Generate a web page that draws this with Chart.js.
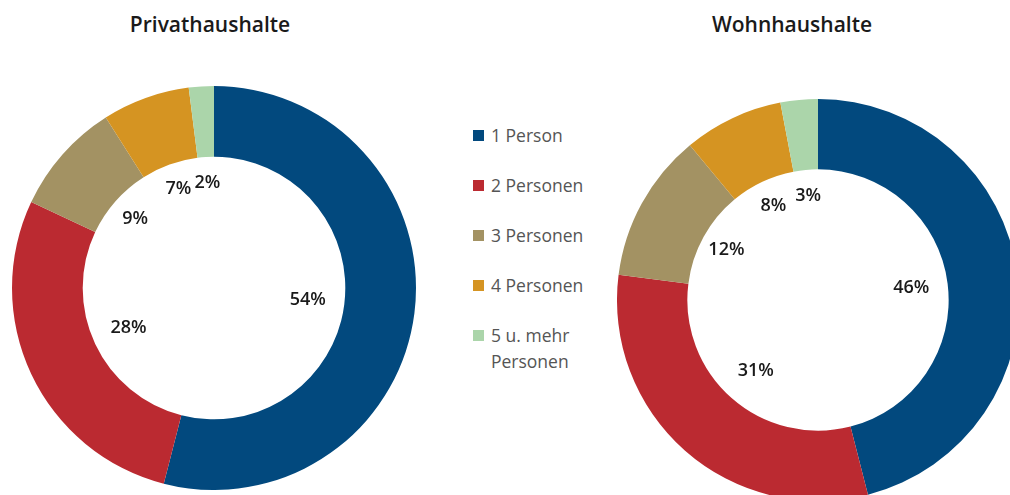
<!DOCTYPE html>
<html>
<head>
<meta charset="utf-8">
<script src="https://cdn.jsdelivr.net/npm/chart.js@4"></script>
<style>
  html, body { margin: 0; padding: 0; background: #fff; }
  body { width: 1010px; height: 495px; overflow: hidden; position: relative; font-family: "Open Sans", sans-serif; }
  canvas { position: absolute; }
  .title { position: absolute; width: 300px; text-align: center; font-size: 21px; font-weight: 600; color: #1a1a1a; }
  .legend-row { position: absolute; left: 473px; display: flex; align-items: flex-start; font-size: 17.5px; color: #555; line-height: 26px; }
  .legend-box { width: 11px; height: 11px; margin-top: 8px; margin-right: 7px; flex: none; }
</style>
</head>
<body>
<div class="title" style="left:60px; top:10px;">Privathaushalte</div>
<div class="title" style="left:642px; top:10px;">Wohnhaushalte</div>
<canvas id="privatChart" width="404" height="404" style="left:12px; top:86px;"></canvas>
<canvas id="wohnChart" width="402" height="402" style="left:617px; top:99px;"></canvas>
<div id="legend"></div>
<script>
const categories = ['1 Person', '2 Personen', '3 Personen', '4 Personen', ['5 u. mehr', 'Personen']];
const privatValues = [54, 28, 9, 7, 2];
const wohnValues = [46, 31, 12, 8, 3];
const colors = ['#02497e', '#bb2a31', '#a39263', '#d59422', '#abd5aa'];

// percent labels inside the hole, placed at the middle angle of each slice
const innerLabels = {
  id: 'innerLabels',
  afterDatasetsDraw(chart) {
    const ctx = chart.ctx;
    const meta = chart.getDatasetMeta(0);
    const values = chart.data.datasets[0].data;
    ctx.save();
    ctx.font = '600 18px "Open Sans"';
    ctx.fillStyle = '#1a1a1a';
    ctx.textAlign = 'center';
    ctx.textBaseline = 'middle';
    meta.data.forEach((arc, i) => {
      const {x, y, startAngle, endAngle, innerRadius} = arc.getProps(['x', 'y', 'startAngle', 'endAngle', 'innerRadius'], true);
      const mid = (startAngle + endAngle) / 2;
      const r = innerRadius * (values[i] >= 20 ? 0.72 : 0.8);
      ctx.fillText(values[i] + '%', x + Math.cos(mid) * r, y + Math.sin(mid) * r);
    });
    ctx.restore();
  }
};

function makeDonut(id, values) {
  return new Chart(document.getElementById(id), {
    type: 'doughnut',
    data: {
      labels: categories.map(c => Array.isArray(c) ? c.join(' ') : c),
      datasets: [{
        data: values,
        backgroundColor: colors,
        borderWidth: 0,
        hoverOffset: 0
      }]
    },
    options: {
      responsive: false,
      animation: false,
      cutout: '65%',
      layout: { padding: 0 },
      plugins: {
        legend: { display: false },
        tooltip: { enabled: false }
      }
    },
    plugins: [innerLabels]
  });
}

makeDonut('privatChart', privatValues);
makeDonut('wohnChart', wohnValues);

// legend in the middle
const legend = document.getElementById('legend');
categories.forEach((cat, i) => {
  const row = document.createElement('div');
  row.className = 'legend-row';
  row.style.top = (122 + i * 50) + 'px';
  const box = document.createElement('span');
  box.className = 'legend-box';
  box.style.background = colors[i];
  const text = document.createElement('span');
  text.innerHTML = Array.isArray(cat) ? cat.join('<br>') : cat;
  row.appendChild(box);
  row.appendChild(text);
  legend.appendChild(row);
});
</script>
</body>
</html>
